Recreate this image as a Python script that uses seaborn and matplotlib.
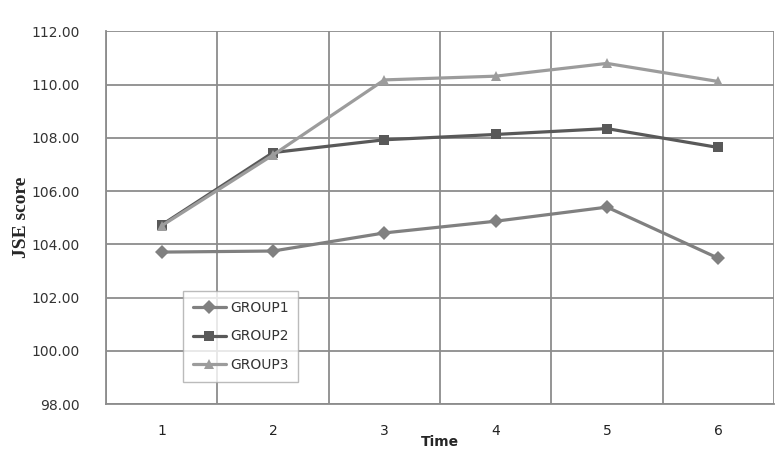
import matplotlib
matplotlib.use("Agg")
import matplotlib.pyplot as plt
import seaborn as sns
import pandas as pd
import numpy as np
from matplotlib.ticker import FixedLocator, FormatStrFormatter

time = [1, 2, 3, 4, 5, 6]
group1 = [103.71, 103.75, 104.43, 104.87, 105.40, 103.48]
group2 = [104.73, 107.45, 107.93, 108.13, 108.35, 107.64]
group3 = [104.70, 107.36, 110.18, 110.32, 110.80, 110.12]
groups = ["GROUP1", "GROUP2", "GROUP3"]
yticks = [98, 100, 102, 104, 106, 108, 110, 112]

df = pd.DataFrame({
    "Time": time * 3,
    "score": group1 + group2 + group3,
    "group": [groups[0]] * 6 + [groups[1]] * 6 + [groups[2]] * 6,
})

sns.set_style("white")
plt.rcParams['font.family'] = ['DejaVu Sans']

fig = plt.figure(figsize=(7.77, 4.54), dpi=100)
ax = fig.add_axes([0.1364, 0.110, 0.8597, 0.8207])

palette = {"GROUP1": "#808080", "GROUP2": "#595959", "GROUP3": "#9c9c9c"}
markers = {"GROUP1": "D", "GROUP2": "s", "GROUP3": "^"}
sns.lineplot(data=df, x="Time", y="score", hue="group", style="group",
             palette=palette, markers=markers, dashes=False, linewidth=2.3,
             markersize=7, markeredgewidth=0, ax=ax)

ax.set_xlim(0.5, 6.5)
ax.set_ylim(98, 112)
ax.xaxis.set_major_locator(FixedLocator(time))
ax.xaxis.set_minor_locator(FixedLocator(np.arange(0.5, 7.0, 1.0)))
ax.yaxis.set_major_locator(FixedLocator(yticks))
ax.yaxis.set_major_formatter(FormatStrFormatter("%.2f"))

ax.grid(False)
ax.grid(True, axis="y", which="major", color="#8c8c8c", linewidth=1.3)
ax.grid(True, axis="x", which="minor", color="#8c8c8c", linewidth=1.3)
ax.tick_params(axis="x", which="major", length=0, labelsize=10, colors="#222222", pad=14)
ax.tick_params(axis="x", which="minor", length=6, width=1.2, color="#8c8c8c", direction="inout")
ax.tick_params(axis="y", which="major", length=5, width=1.2, color="#8c8c8c", labelsize=10,
               labelcolor="#333333", direction="out", pad=14)

for s in ["top", "right"]:
    ax.spines[s].set_visible(False)
for s in ["left", "bottom"]:
    ax.spines[s].set_color("#8c8c8c")
    ax.spines[s].set_linewidth(1.3)

ax.set_xlabel("Time", fontsize=10, fontweight="bold", labelpad=-2)
ax.set_ylabel("JSE score", fontsize=14, fontweight="bold", family="Liberation Serif", labelpad=1)

leg = ax.legend(loc="upper left", bbox_to_anchor=(0.115, 0.303), frameon=True, fancybox=False,
                edgecolor="#aaaaaa", fontsize=10, handlelength=2.4, borderpad=0.7,
                labelspacing=1.05, handletextpad=0.3, borderaxespad=0)
leg.get_frame().set_linewidth(1.0)
for t in leg.get_texts():
    t.set_color("#333333")

fig.savefig("out.png", dpi=100)
